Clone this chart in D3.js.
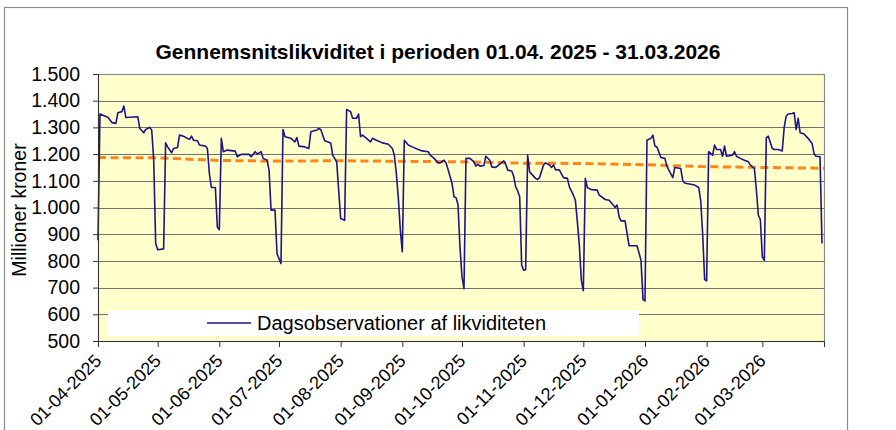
<!DOCTYPE html>
<html>
<head>
<meta charset="utf-8">
<script src="https://cdn.jsdelivr.net/npm/d3@7"></script>
<style>
  body { margin: 0; background: #fff; }
  svg { display: block; font-family: "Liberation Sans", Arial, sans-serif; }
</style>
</head>
<body>
<svg id="chart" width="896" height="430"></svg>
<script>
// daily liquidity, day number counted from 01-04-2025, values in mio. kr
var obsDay = [0,1,5,7,9,10,12,13,14,20,21,23,24,26,27,28,29,30,33,34,35,37,38,40,41,43,45,46,47,48,50,51,54,55,56,57,59,60,61,62,
  63,65,69,70,72,76,77,79,80,82,83,85,86,87,89,90,92,93,94,97,99,100,101,104,106,107,110,111,112,113,114,117,118,120,121,122,124,
  125,127,128,130,131,132,133,135,137,138,140,143,146,148,149,150,151,152,153,154,156,158,161,163,166,167,169,171,172,174,175,176,
  178,179,180,181,182,183,184,185,187,189,190,191,192,194,195,197,198,200,202,204,205,206,208,209,210,211,212,213,214,215,216,217,
  218,220,221,222,224,225,227,228,229,230,232,234,236,237,239,240,241,242,243,244,245,246,248,251,252,255,257,259,260,261,262,263,
  265,266,267,271,272,273,274,275,276,278,279,280,281,283,285,286,287,289,290,293,294,295,296,298,300,302,303,304,305,306,307,309,
  310,311,313,314,315,316,319,320,321,323,325,327,328,330,331,332,333,334,335,336,337,339,340,342,344,345,346,347,349,350,351,352,
  353,355,357,359,360,361,363,364];
var obsValue = [877,1350,1338,1318,1315,1355,1359,1380,1337,1340,1296,1280,1292,1300,1290,1180,865,842,845,1242,1227,1205,1221,1225,1271,1267,1259,1255,1267,1252,1250,1234,1230,1221,1127,1075,1075,927,917,1259,
  1209,1215,1211,1190,1199,1199,1190,1209,1200,1209,1184,1177,1140,990,990,827,790,1292,1265,1259,1246,1262,1230,1227,1221,1284,1290,1296,1292,1271,1250,1242,1196,1171,1065,959,952,
  1367,1359,1334,1334,1350,1265,1271,1259,1246,1259,1252,1242,1237,1221,1196,1127,1034,915,834,1252,1234,1227,1217,1212,1209,1196,1184,1167,1167,1177,1167,1142,
  1090,1040,1037,1010,850,740,696,1184,1184,1171,1155,1162,1155,1157,1192,1177,1152,1150,1162,1175,1162,1140,1137,1117,1077,1062,1040,784,765,767,1196,1134,
  1125,1109,1105,1112,1159,1167,1159,1150,1159,1142,1140,1112,1109,1077,1046,1027,946,859,727,688,1109,1075,1067,1065,1046,1030,1027,1009,1000,1009,965,950,
  950,902,857,857,830,802,655,650,1252,1259,1271,1230,1227,1187,1184,1155,1140,1112,1150,1146,1100,1092,1090,1087,1084,1075,1027,900,730,725,1209,1196,
  1234,1217,1217,1192,1230,1192,1196,1209,1192,1184,1177,1171,1159,1146,1065,971,955,815,802,1262,1267,1221,1217,1217,1212,1300,1342,1350,1352,1355,1292,1334,
  1280,1275,1259,1240,1202,1192,1190,865];

// period average (orange dashed)
var avgDate = ["2025-04-01","2025-05-01","2025-06-01","2025-07-01","2025-08-01","2025-09-01","2025-10-01",
  "2025-11-01","2025-12-01","2026-01-01","2026-02-01","2026-03-01","2026-04-01"];
var avgValue = [1187,1186,1176,1174,1175,1173,1171,1166,1165,1160,1153,1150,1147];

var yTicks = [500,600,700,800,900,1000,1100,1200,1300,1400,1500];
var xTickLabels = ["01-04-2025","01-05-2025","01-06-2025","01-07-2025","01-08-2025","01-09-2025",
  "01-10-2025","01-11-2025","01-12-2025","01-01-2026","01-02-2026","01-03-2026",""];

var titleText = "Gennemsnitslikviditet i perioden 01.04. 2025 - 31.03.2026";
var yTitle = "Millioner kroner";
var legendText = "Dagsobservationer af likviditeten";

var svg = d3.select("#chart");
var plot = {left: 98, right: 824, top: 74, bottom: 341};
var parse = d3.timeParse("%Y-%m-%d");
var start = parse("2025-04-01"), end = parse("2026-04-01");

var x = d3.scaleTime().domain([start, end]).range([plot.left, plot.right]);
var y = d3.scaleLinear().domain([500, 1500]).range([plot.bottom, plot.top]);

var dk = d3.formatLocale({decimal: ",", thousands: ".", grouping: [3], currency: ["", ""]});
var fmt = dk.format(",d");

// outer frame
svg.append("rect").attr("x", 4.5).attr("y", 7.5).attr("width", 843).attr("height", 440)
  .attr("fill", "#fff").attr("stroke", "#8c8c8c").attr("stroke-width", 1.2);

// plot background
svg.append("rect").attr("x", plot.left).attr("y", plot.top)
  .attr("width", plot.right - plot.left).attr("height", plot.bottom - plot.top)
  .attr("fill", "#ffffcc");

// gridlines
svg.append("g").selectAll("line").data(yTicks).enter().append("line")
  .attr("x1", plot.left).attr("x2", plot.right)
  .attr("y1", function (d) { return Math.round(y(d)) + 0.5; })
  .attr("y2", function (d) { return Math.round(y(d)) + 0.5; })
  .attr("stroke", "#707070").attr("stroke-width", 1);

// plot border
svg.append("rect").attr("x", plot.left + 0.5).attr("y", plot.top + 0.5)
  .attr("width", plot.right - plot.left).attr("height", plot.bottom - plot.top)
  .attr("fill", "none").attr("stroke", "#8a8a8a").attr("stroke-width", 1.2);

// average line
var avgData = avgDate.map(function (d, i) { return {date: parse(d), v: avgValue[i]}; });
svg.append("path").datum(avgData)
  .attr("d", d3.line().x(function (d) { return x(d.date); }).y(function (d) { return y(d.v); }))
  .attr("fill", "none").attr("stroke", "#ff8418").attr("stroke-width", 3)
  .attr("stroke-dasharray", "8,4.5");

// daily observations
var obsData = obsDay.map(function (d, i) { return {date: d3.timeDay.offset(start, d), v: obsValue[i]}; });
svg.append("path").datum(obsData)
  .attr("d", d3.line().x(function (d) { return x(d.date); }).y(function (d) { return y(d.v); }))
  .attr("fill", "none").attr("stroke", "#1c1488").attr("stroke-width", 1.6)
  .attr("stroke-linejoin", "round");

// y axis
var yAxis = svg.append("g").attr("transform", "translate(" + plot.left + ",0)")
  .call(d3.axisLeft(y).tickValues(yTicks).tickFormat(fmt).tickSize(5).tickPadding(13));
yAxis.select(".domain").attr("stroke", "#333");
yAxis.selectAll(".tick line").attr("stroke", "#333");
yAxis.selectAll("text").attr("font-size", 19.5).attr("fill", "#000")
  .attr("font-family", "'Liberation Sans', Arial, sans-serif");

// x axis
var monthTicks = d3.timeMonth.range(start, d3.timeDay.offset(end, 1));
var xAxis = svg.append("g").attr("transform", "translate(0," + plot.bottom + ")")
  .call(d3.axisBottom(x).tickValues(monthTicks).tickSize(6)
    .tickFormat(function (d, i) { return xTickLabels[i]; }));
xAxis.select(".domain").attr("stroke", "#333");
xAxis.selectAll(".tick line").attr("stroke", "#333");
xAxis.selectAll("text")
  .attr("font-size", 18).attr("fill", "#000")
  .attr("font-family", "'Liberation Sans', Arial, sans-serif")
  .attr("text-anchor", "end")
  .attr("x", 0).attr("y", 0).attr("dy", 0)
  .attr("transform", "translate(4,21) rotate(-45)");

// title
svg.append("text").attr("x", 438).attr("y", 59).attr("text-anchor", "middle")
  .attr("font-size", 21).attr("font-weight", "bold").text(titleText);

// y axis title
svg.append("text").attr("transform", "translate(26,210) rotate(-90)")
  .attr("text-anchor", "middle").attr("font-size", 19.5).text(yTitle);

// legend
var lg = svg.append("g");
lg.append("rect").attr("x", 108).attr("y", 310).attr("width", 531).attr("height", 26).attr("fill", "#fff");
lg.append("line").attr("x1", 207).attr("x2", 251).attr("y1", 323).attr("y2", 323)
  .attr("stroke", "#1c1488").attr("stroke-width", 1.6);
lg.append("text").attr("x", 257).attr("y", 330).attr("font-size", 20).text(legendText);
</script>
</body>
</html>
